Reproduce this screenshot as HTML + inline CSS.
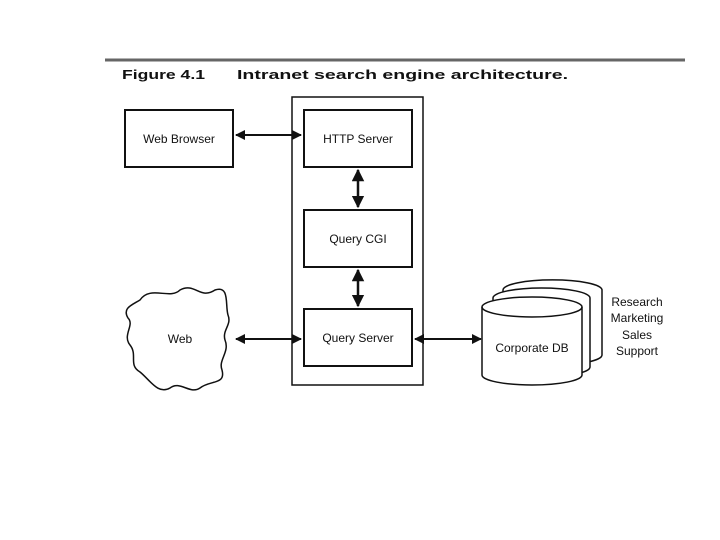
<!DOCTYPE html>
<html><head><style>
html,body{margin:0;padding:0;background:#fff;}
svg{display:block;}
text{font-family:"Liberation Sans",sans-serif;fill:#111;}
</style></head><body>
<svg width="720" height="540" viewBox="0 0 720 540" xmlns="http://www.w3.org/2000/svg">
<defs>
<marker id="a" viewBox="0 0 10 10" refX="9" refY="5" markerWidth="5" markerHeight="5" orient="auto-start-reverse"><path d="M0,0 L10,5 L0,10 z" fill="#111"/></marker>
</defs>
<line x1="105" y1="60" x2="685" y2="60" stroke="#666" stroke-width="3"/>
<text x="122" y="79" font-size="13" font-weight="bold" textLength="83" lengthAdjust="spacingAndGlyphs">Figure 4.1</text>
<text x="237" y="79" font-size="13" font-weight="bold" textLength="331" lengthAdjust="spacingAndGlyphs">Intranet search engine architecture.</text>
<g fill="none" stroke="#111" stroke-width="2">
<rect x="292" y="97" width="131" height="288" stroke-width="1.5"/>
<rect x="125" y="110" width="108" height="57"/>
<rect x="304" y="110" width="108" height="57"/>
<rect x="304" y="210" width="108" height="57"/>
<rect x="304" y="309" width="108" height="57"/>
<path d="M140,300 C150,285 170,300 180,290 C195,282 200,300 215,290 C230,285 225,305 228,315 C232,325 222,330 225,340 C230,352 218,360 222,370 C226,385 210,380 200,388 C190,395 180,380 170,388 C158,395 150,380 140,372 C128,365 138,355 130,345 C122,335 135,325 128,318 C122,308 132,305 140,300 Z" stroke-width="1.5"/>
<line x1="236" y1="135" x2="301" y2="135" marker-start="url(#a)" marker-end="url(#a)"/>
<line x1="358" y1="170" x2="358" y2="207" marker-start="url(#a)" marker-end="url(#a)" stroke-width="2.5"/>
<line x1="358" y1="270" x2="358" y2="306" marker-start="url(#a)" marker-end="url(#a)" stroke-width="2.5"/>
<line x1="236" y1="339" x2="301" y2="339" marker-start="url(#a)" marker-end="url(#a)"/>
<line x1="415" y1="339" x2="481" y2="339" marker-start="url(#a)" marker-end="url(#a)"/>
</g>
<g stroke="#111" stroke-width="1.5" fill="#fff">
<path d="M503,290 A49,10 0 0 1 602,290 L602,355 A49,10 0 0 1 503,355 Z"/>
<path d="M493,298 A48.5,10 0 0 1 590,298 L590,367 A48.5,10 0 0 1 493,367 Z"/>
<path d="M482,307 A50,10 0 0 1 582,307 L582,375 A50,10 0 0 1 482,375 Z"/>
<path d="M482,307 A50,10 0 0 0 582,307" fill="none"/>
</g>
<g font-size="12" text-anchor="middle">
<text x="179" y="143">Web Browser</text>
<text x="358" y="143">HTTP Server</text>
<text x="358" y="243">Query CGI</text>
<text x="358" y="342">Query Server</text>
<text x="180" y="343">Web</text>
<text x="532" y="352">Corporate DB</text>
<text x="637" y="306">Research</text>
<text x="637" y="322">Marketing</text>
<text x="637" y="339">Sales</text>
<text x="637" y="355">Support</text>
</g>
</svg>
</body></html>
